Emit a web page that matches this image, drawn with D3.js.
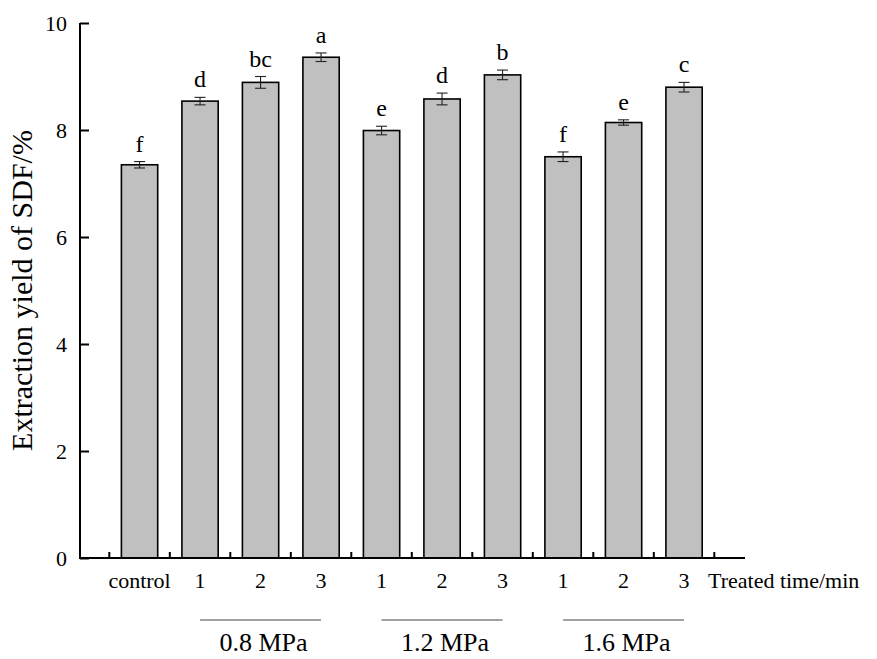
<!DOCTYPE html>
<html>
<head>
<meta charset="utf-8">
<script src="https://cdn.jsdelivr.net/npm/d3@7"></script>
<style>
  body { margin: 0; background: #fff; }
  text { font-family: "Liberation Serif", "Times New Roman", serif; fill: #000; }
</style>
</head>
<body>
<script>
// Datos del gráfico
const categorias = ["control", "0.8-1", "0.8-2", "0.8-3", "1.2-1", "1.2-2", "1.2-3", "1.6-1", "1.6-2", "1.6-3"];
const etiquetasX = ["control", "1", "2", "3", "1", "2", "3", "1", "2", "3"];
const valores = [7.35, 8.54, 8.89, 9.36, 7.99, 8.58, 9.03, 7.50, 8.14, 8.80];
const errores = [0.06, 0.07, 0.11, 0.08, 0.08, 0.11, 0.09, 0.09, 0.05, 0.09];
const letras = ["f", "d", "bc", "a", "e", "d", "b", "f", "e", "c"];
const grupos = [
  { nombre: "0.8 MPa", desde: "0.8-1", hasta: "0.8-3" },
  { nombre: "1.2 MPa", desde: "1.2-1", hasta: "1.2-3" },
  { nombre: "1.6 MPa", desde: "1.6-1", hasta: "1.6-3" },
];
const ticksY = [0, 2, 4, 6, 8, 10];

const WIDTH = 877;
const HEIGHT = 659;
const EJE_X0 = 80;     // posición del eje Y
const EJE_X1 = 745;    // fin del eje X
const Y_CERO = 558;
const Y_TOPE = 23;

const svg = d3.select("body")
  .append("svg")
  .attr("width", WIDTH)
  .attr("height", HEIGHT);

// Escalas
const escalaX = d3.scaleBand()
  .domain(categorias)
  .range([109.3, 714.3])
  .paddingInner(0.4)
  .paddingOuter(0.2);

const escalaY = d3.scaleLinear()
  .domain([0, 10])
  .range([Y_CERO, Y_TOPE]);

const paso = escalaX.step();
const ancho = escalaX.bandwidth();

// Barras
svg.append("g")
  .selectAll("rect")
  .data(categorias)
  .join("rect")
  .attr("x", d => escalaX(d))
  .attr("y", (d, i) => escalaY(valores[i]))
  .attr("width", ancho)
  .attr("height", (d, i) => Y_CERO - escalaY(valores[i]))
  .attr("fill", "#c0c0c0")
  .attr("stroke", "#000")
  .attr("stroke-width", 1.6);

// Barras de error
const gErr = svg.append("g").attr("stroke", "#222").attr("stroke-width", 1.1);
categorias.forEach((c, i) => {
  const cx = escalaX(c) + ancho / 2;
  const y1 = escalaY(valores[i] + errores[i]);
  const y2 = escalaY(valores[i] - errores[i]);
  gErr.append("line").attr("x1", cx).attr("x2", cx).attr("y1", y1).attr("y2", y2);
  gErr.append("line").attr("x1", cx - 5.5).attr("x2", cx + 5.5).attr("y1", y1).attr("y2", y1);
  gErr.append("line").attr("x1", cx - 5.5).attr("x2", cx + 5.5).attr("y1", y2).attr("y2", y2);
});

// Letras de significancia
svg.append("g")
  .selectAll("text")
  .data(categorias)
  .join("text")
  .attr("x", d => escalaX(d) + ancho / 2)
  .attr("y", (d, i) => escalaY(valores[i] + errores[i]) - 10)
  .attr("text-anchor", "middle")
  .attr("font-size", 24)
  .text((d, i) => letras[i]);

// Eje Y
const ejeY = d3.axisLeft(escalaY)
  .tickValues(ticksY)
  .tickSize(-9)
  .tickPadding(13);

const contenedorEjeY = svg.append("g")
  .attr("transform", `translate(${EJE_X0}, 0)`)
  .call(ejeY);
contenedorEjeY.select(".domain").remove();
contenedorEjeY.selectAll("line").attr("stroke", "#000").attr("stroke-width", 2);
contenedorEjeY.selectAll("text")
  .attr("font-size", 22)
  .attr("font-family", "Liberation Serif, Times New Roman, serif");
svg.append("line")
  .attr("x1", EJE_X0).attr("x2", EJE_X0)
  .attr("y1", Y_TOPE).attr("y2", Y_CERO)
  .attr("stroke", "#000").attr("stroke-width", 2);

// Eje X
svg.append("line")
  .attr("x1", EJE_X0 - 1).attr("x2", EJE_X1)
  .attr("y1", Y_CERO).attr("y2", Y_CERO)
  .attr("stroke", "#000").attr("stroke-width", 2);

// Ticks menores entre barras (hacia adentro)
const posTicks = categorias.map(c => escalaX(c) - paso * 0.2);
posTicks.push(escalaX(categorias[categorias.length - 1]) + ancho + paso * 0.2);
svg.append("g")
  .selectAll("line")
  .data(posTicks)
  .join("line")
  .attr("x1", d => d).attr("x2", d => d)
  .attr("y1", Y_CERO).attr("y2", Y_CERO - 6)
  .attr("stroke", "#000").attr("stroke-width", 2);

// Etiquetas del eje X
svg.append("g")
  .selectAll("text")
  .data(categorias)
  .join("text")
  .attr("x", d => escalaX(d) + ancho / 2)
  .attr("y", 588)
  .attr("text-anchor", "middle")
  .attr("font-size", 22)
  .text((d, i) => etiquetasX[i]);

svg.append("text")
  .attr("x", 708)
  .attr("y", 588)
  .attr("font-size", 22)
  .text("Treated time/min");

// Grupos de presión
const gGrupos = svg.append("g");
grupos.forEach(g => {
  const xa = escalaX(g.desde) + ancho / 2;
  const xb = escalaX(g.hasta) + ancho / 2;
  gGrupos.append("line")
    .attr("x1", xa).attr("x2", xb)
    .attr("y1", 620).attr("y2", 620)
    .attr("stroke", "#444").attr("stroke-width", 1);
  gGrupos.append("text")
    .attr("x", (xa + xb) / 2 + 3)
    .attr("y", 651)
    .attr("text-anchor", "middle")
    .attr("font-size", 26)
    .text(g.nombre);
});

// Título del eje Y
svg.append("text")
  .attr("transform", `translate(32, ${(Y_TOPE + Y_CERO) / 2}) rotate(-90)`)
  .attr("text-anchor", "middle")
  .attr("font-size", 30)
  .text("Extraction yield of SDF/%");
</script>
</body>
</html>
